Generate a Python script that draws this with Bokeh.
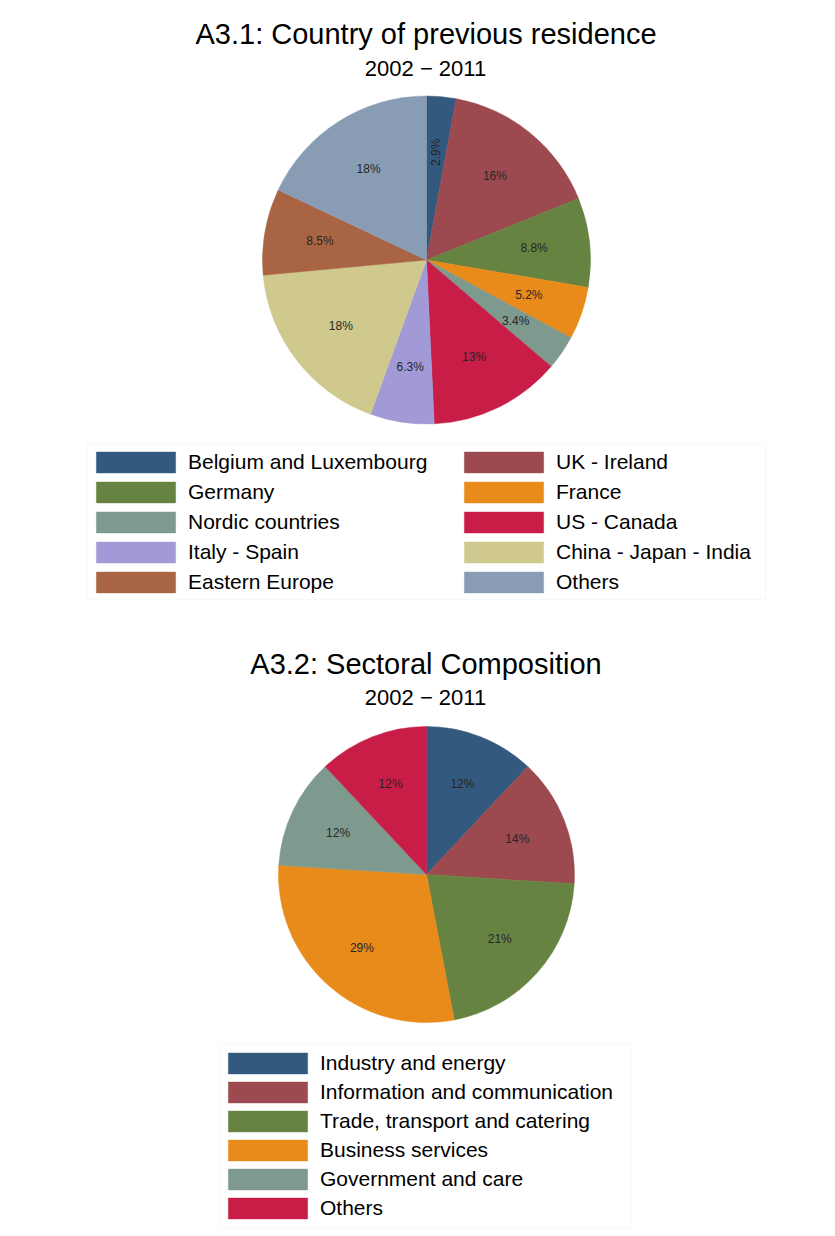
import numpy as np
from bokeh.plotting import figure
from bokeh.models import Range1d, Label, Legend, LegendItem, BoxAnnotation, ColumnDataSource
from bokeh.core.properties import value
from bokeh.embed import file_html
from bokeh.resources import INLINE

# A3.1 country of previous residence (percent), clockwise from 12 o'clock
countries = ["Belgium and Luxembourg", "UK - Ireland", "Germany", "France",
             "Nordic countries", "US - Canada", "Italy - Spain",
             "China - Japan - India", "Eastern Europe", "Others"]
country_share = [2.9, 16, 8.8, 5.2, 3.4, 13, 6.3, 18, 8.5, 18]
country_colors = ["#335a7e", "#9c4a50", "#678342", "#e88b1b", "#7e998e",
                  "#c81d47", "#a29ad6", "#cfc98d", "#a96443", "#889db4"]

# A3.2 sectoral composition (percent)
sectors = ["Industry and energy", "Information and communication",
           "Trade, transport and catering", "Business services",
           "Government and care", "Others"]
sector_share = [12, 14, 21, 29, 12, 12]
sector_colors = ["#335a7e", "#9c4a50", "#678342", "#e88b1b", "#7e998e", "#c81d47"]

subtitle = "2002 \u2212 2011"
FONT = "Liberation Sans"

W, H = 835, 1236


def py(y):
    # page pixel row -> data y (data units are pixels, y up)
    return H - y


p = figure(width=W, height=H, x_range=Range1d(0, W), y_range=Range1d(0, H),
           x_axis_location=None, y_axis_location=None, toolbar_location=None,
           output_backend="svg", min_border=0)
p.grid.visible = False
p.outline_line_color = None


def pie(shares, colors, cx, cy, r, angles=None):
    frac = np.array(shares, dtype=float) / sum(shares)
    ends = np.cumsum(frac)
    starts = ends - frac
    mids = np.pi / 2 - 2 * np.pi * (starts + frac / 2)
    src = ColumnDataSource(dict(
        start=np.pi / 2 - 2 * np.pi * ends,
        end=np.pi / 2 - 2 * np.pi * starts,
        color=colors,
        lx=cx + 0.66 * r * np.cos(mids),
        ly=cy + 0.66 * r * np.sin(mids),
        txt=["%g%%" % s for s in shares],
        ang=angles if angles is not None else [0] * len(shares),
    ))
    w = p.wedge(x=cx, y=cy, radius=r, start_angle="start", end_angle="end",
                fill_color="color", line_color="color", line_width=0.5, source=src)
    p.text(x="lx", y="ly", text="txt", angle="ang", source=src,
           text_font=value(FONT), text_font_size="12px", text_color="#262626",
           text_align="center", text_baseline="middle")
    return w


def titles(main, y_main, y_sub):
    p.add_layout(Label(x=425.5, y=py(y_main), text=main, text_font=FONT,
                       text_font_size="29px", text_align="center",
                       text_baseline="alphabetic", text_color="black"))
    p.add_layout(Label(x=425, y=py(y_sub), text=subtitle, text_font=FONT,
                       text_font_size="22px", text_align="center",
                       text_baseline="alphabetic", text_color="black"))


def legend(renderer, names, loc, ncols, label_width, spacing, box):
    items = [LegendItem(label=n, renderers=[renderer], index=i) for i, n in enumerate(names)]
    leg = Legend(items=items, location=loc, orientation="horizontal", ncols=ncols,
                 glyph_width=99, glyph_height=26, label_standoff=3,
                 label_width=label_width, label_height=26, spacing=spacing,
                 padding=0, margin=0, border_line_alpha=0, background_fill_alpha=0,
                 label_text_font=FONT, label_text_font_size="21px",
                 label_text_color="black")
    p.add_layout(leg)
    left, right, top, bottom = box
    p.add_layout(BoxAnnotation(left=left, right=right, top=py(top), bottom=py(bottom),
                               fill_alpha=0, line_color="#e4eaec", line_width=1))


# chart A3.1
titles("A3.1: Country of previous residence", 33, 68)
r1 = pie(country_share, country_colors, 426, py(259.5), 164,
         angles=[np.pi / 2] + [0] * 9)
legend(r1, countries, (86, H - 595), 2, 262, 4, (87, 765, 443, 599))

# chart A3.2
titles("A3.2: Sectoral Composition", 663, 697)
r2 = pie(sector_share, sector_colors, 426, py(874), 148)
legend(r2, sectors, (218, H - 1221), 1, 20, 3, (220, 631, 1043, 1228))

open("out.html", "w").write(file_html(p, INLINE))
